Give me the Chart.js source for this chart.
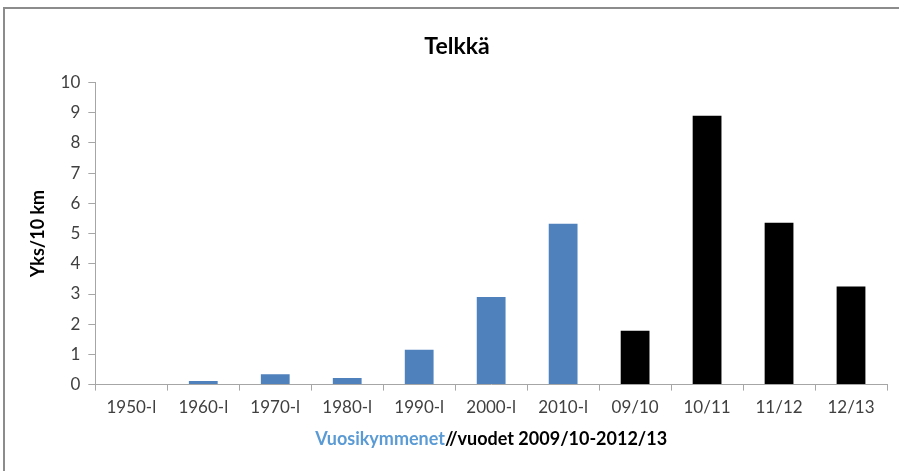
<!DOCTYPE html>
<html>
<head>
<meta charset="utf-8">
<script src="https://cdn.jsdelivr.net/npm/chart.js@4"></script>
<style>
  body { margin: 0; background: #fff; }
  #wrap { width: 899px; height: 471px; position: relative; }
</style>
</head>
<body>
<div id="wrap"><canvas id="chart" width="899" height="471"></canvas></div>
<script>
// decades (blue) and seasons (black)
const decadeLabels = ["1950-l", "1960-l", "1970-l", "1980-l", "1990-l", "2000-l", "2010-l"];
const decadeValues = [0, 0.12, 0.34, 0.22, 1.15, 2.9, 5.33];
const seasonLabels = ["09/10", "10/11", "11/12", "12/13"];
const seasonValues = [1.78, 8.9, 5.36, 3.25];
const yTicks = [0, 1, 2, 3, 4, 5, 6, 7, 8, 9, 10];

const labels = decadeLabels.concat(seasonLabels);
const values = decadeValues.concat(seasonValues);

const FONT = "Lato, 'Open Sans', sans-serif";

// frame lines (left + top only, like the cropped screenshot) and two-colour x title
const decor = {
    id: "decor",
    beforeDraw(chart) {
        const ctx = chart.ctx;
        ctx.save();
        ctx.strokeStyle = "#8c8c8c";
        ctx.lineWidth = 2;
        ctx.beginPath();
        ctx.moveTo(4, 471);
        ctx.lineTo(4, 8);
        ctx.lineTo(899, 8);
        ctx.stroke();
        ctx.restore();
    },
    afterDraw(chart) {
        const ctx = chart.ctx;
        const area = chart.chartArea;
        const part1 = "Vuosikymmenet";
        const part2 = "//vuodet 2009/10-2012/13";
        ctx.save();
        ctx.font = "bold 18px " + FONT;
        ctx.textBaseline = "middle";
        const w1 = ctx.measureText(part1).width;
        const w2 = ctx.measureText(part2).width;
        const cx = (area.left + area.right) / 2;
        const y = 439;
        let x = cx - (w1 + w2) / 2;
        ctx.fillStyle = "#5b9bd5";
        ctx.fillText(part1, x, y);
        ctx.fillStyle = "#000";
        ctx.fillText(part2, x + w1, y);
        ctx.restore();
    }
};

const ctx = document.getElementById("chart").getContext("2d");
new Chart(ctx, {
    type: "bar",
    data: {
        labels: labels,
        datasets: [{
            data: values,
            backgroundColor: c => c.dataIndex < decadeLabels.length ? "#4f81bd" : "#000000",
            borderWidth: 0,
            barPercentage: 0.4,
            categoryPercentage: 1.0
        }]
    },
    options: {
        responsive: false,
        animation: false,
        layout: { padding: { left: 27, right: 12, top: 25, bottom: 46 } },
        plugins: {
            legend: { display: false },
            tooltip: { enabled: false },
            title: {
                display: true,
                text: "Telkkä",
                color: "#000",
                font: { family: FONT, size: 23, weight: "bold" },
                padding: { top: 8, bottom: 22 }
            }
        },
        scales: {
            x: {
                grid: { drawOnChartArea: false, color: "#a6a6a6", tickLength: 6 },
                border: { color: "#a6a6a6" },
                ticks: { color: "#404040", font: { family: FONT, size: 17 }, padding: 7, maxRotation: 0 }
            },
            y: {
                min: 0,
                max: 10,
                afterBuildTicks: axis => { axis.ticks = yTicks.map(v => ({ value: v })); },
                grid: { drawOnChartArea: false, color: "#a6a6a6", tickLength: 7 },
                border: { color: "#a6a6a6" },
                ticks: { color: "#404040", font: { family: FONT, size: 17 }, padding: 8 },
                title: {
                    display: true,
                    text: "Yks/10 km",
                    color: "#000",
                    font: { family: FONT, size: 18, weight: "bold" },
                    padding: { top: 0, bottom: 4 }
                }
            }
        }
    },
    plugins: [decor]
});
</script>
</body>
</html>
